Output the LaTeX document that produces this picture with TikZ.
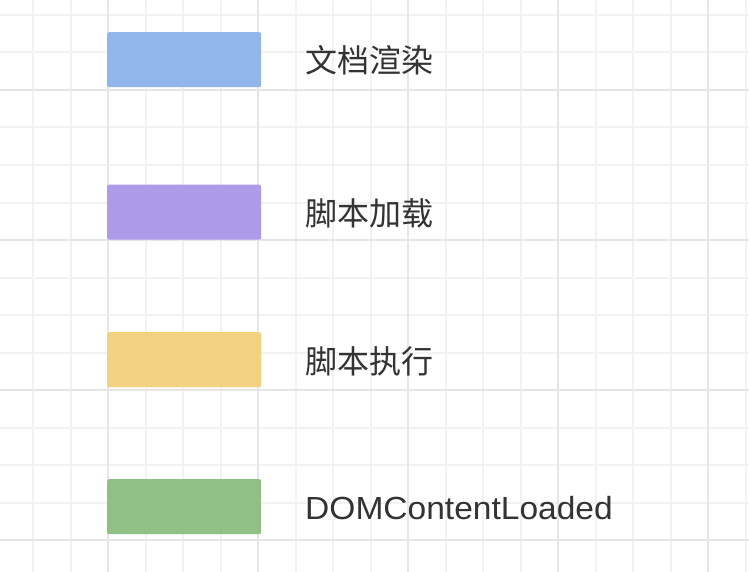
\documentclass[tikz,border=0pt]{standalone}
\usepackage{fontspec}
\setmainfont{Liberation Sans}
\newfontfamily\cjk{Noto Sans CJK SC}
\definecolor{gridminor}{HTML}{F2F2F2}
\definecolor{gridmajor}{HTML}{E6E6E6}
\definecolor{cblue}{HTML}{92B6E9}
\definecolor{cpurple}{HTML}{AE9BE8}
\definecolor{cyellow}{HTML}{F2D181}
\definecolor{cgreen}{HTML}{90C086}
\definecolor{txt}{HTML}{333333}
\tikzset{
  legendbox/.style={draw=none, rounded corners=2pt, minimum width=154pt, minimum height=55pt, inner sep=0pt, anchor=north west},
  legendtext/.style={anchor=base west, inner sep=0pt, text=txt, font=\fontsize{32}{38}\selectfont},
  minorline/.style={gridminor, line width=2pt},
  majorline/.style={gridmajor, line width=2pt},
}
\begin{document}
\begin{tikzpicture}[x=1pt,y=-1pt]
\useasboundingbox (0,0) rectangle (749,572);
\fill[white] (0,0) rectangle (749,572);
% grid
\begin{scope}
\clip (0,0) rectangle (749,572);
\foreach \i in {0,...,20} {
  \pgfmathsetmacro\xx{-4.5+37.5*\i}
  \draw[minorline] (\xx,0) -- (\xx,572);
}
\foreach \j in {0,...,15} {
  \pgfmathsetmacro\yy{15+37.5*\j}
  \draw[minorline] (0,\yy) -- (749,\yy);
}
\foreach \xx in {108,258,408,558,708} {
  \draw[majorline] (\xx,0) -- (\xx,572);
}
\foreach \yy in {90,240,390,540} {
  \draw[majorline] (0,\yy) -- (749,\yy);
}
\end{scope}
% legend boxes
\node[legendbox, fill=cblue]   (r1) at (107,32)  {};
\node[legendbox, fill=cpurple] (r2) at (107,184.5) {};
\node[legendbox, fill=cyellow] (r3) at (107,332) {};
\node[legendbox, fill=cgreen]  (r4) at (107,479) {};
% labels
\node[legendtext] (l1) at (305,73)  {\cjk 文档渲染};
\node[legendtext] (l2) at (305,225.5) {\cjk 脚本加载};
\node[legendtext] (l3) at (305,373) {\cjk 脚本执行};
\node[legendtext] (l4) at (305,519) {\scalebox{1.048}[1]{DOMContentLoaded}};
\end{tikzpicture}
\end{document}
